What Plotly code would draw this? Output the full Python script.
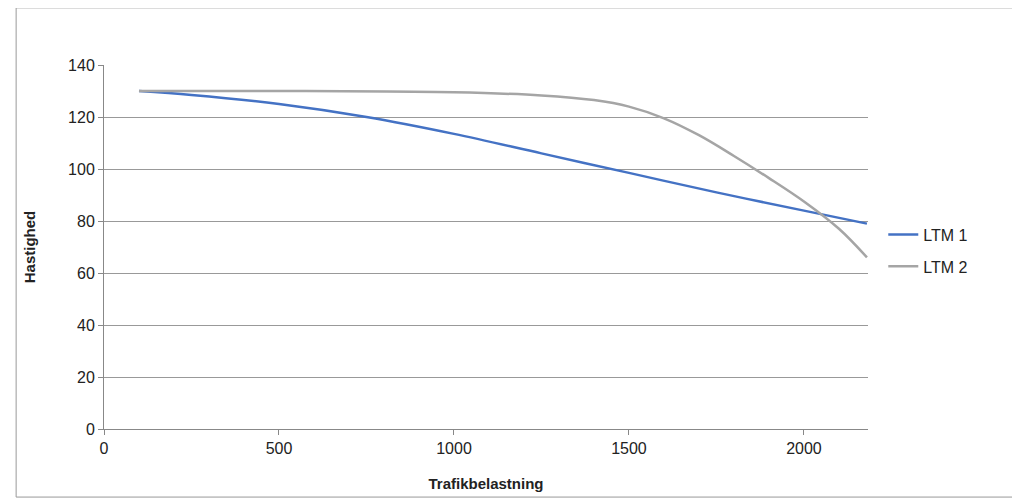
import plotly.graph_objects as go

x_ltm1 = [100, 250, 500, 750, 1000, 1250, 1500, 1750, 2000, 2180]
y_ltm1 = [130, 128.5, 125, 120, 113.5, 106, 98.5, 91, 84, 79]

x_ltm2 = [100, 500, 1000, 1250, 1400, 1500, 1600, 1700, 1800, 1900, 2000, 2100, 2180]
y_ltm2 = [130, 130, 129.5, 128.3, 126.5, 124, 119.5, 113, 105, 96.5, 87.5, 77, 66]

x_ticks = [0, 500, 1000, 1500, 2000]
y_ticks = [0, 20, 40, 60, 80, 100, 120, 140]

fig = go.Figure()
fig.add_trace(go.Scatter(x=x_ltm1, y=y_ltm1, mode="lines", name="LTM 1", legendgroup="a",
                         line=dict(color="#4472C4", width=2.5, shape="spline")))
fig.add_trace(go.Scatter(x=x_ltm2, y=y_ltm2, mode="lines", name="LTM 2", legendgroup="b",
                         line=dict(color="#A5A5A5", width=2.5, shape="spline")))

fig.update_layout(
    width=1020, height=499,
    margin=dict(l=96, r=160, t=57, b=78),
    plot_bgcolor="white", paper_bgcolor="white",
    font=dict(family="Liberation Sans, Arial", size=16, color="#222"),
    legend=dict(x=1.02, y=0.49, xanchor="left", yanchor="middle",
                font=dict(size=16), traceorder="grouped", tracegroupgap=8),
    xaxis=dict(range=[0, 2183], tickvals=x_ticks, showgrid=False, zeroline=False,
               showline=True, linecolor="#888", ticks="outside", ticklen=5,
               tickcolor="#888",
               title=dict(text="<b>Trafikbelastning</b>", font=dict(size=15), standoff=22)),
    yaxis=dict(range=[0, 140], tickvals=y_ticks, showgrid=True, gridcolor="#999",
               gridwidth=1, zeroline=False, showline=True, linecolor="#888",
               ticks="outside", ticklen=5, tickcolor="#888",
               title=dict(text="<b>Hastighed</b>", font=dict(size=15), standoff=28)),
    shapes=[dict(type="rect", xref="paper", yref="paper",
                 x0=-0.115, x1=1.2, y0=-0.187, y1=1.157,
                 line=dict(color="#999", width=1))],
)

fig.write_html("out.html")
